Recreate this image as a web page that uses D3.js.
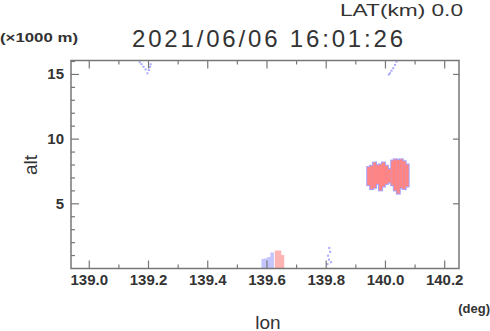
<!DOCTYPE html>
<html lang="en">
<head>
<meta charset="utf-8">
<title>alt-lon section</title>
<script src="https://cdnjs.cloudflare.com/ajax/libs/d3/7.8.5/d3.min.js"></script>
<style>
  body { margin: 0; background: #fff; }
  svg text { font-family: "Liberation Sans", Arial, sans-serif; fill: #333; }
  .axis text { font-weight: bold; font-size: 15px; }
  .axis line { stroke: #777; stroke-width: 1.2; }
  .axis path { display: none; }
</style>
</head>
<body>
<div id="chart"></div>
<script>
// ---- data ----
const xMajor = [139.0, 139.2, 139.4, 139.6, 139.8, 140.0, 140.2];
const xMinor = [139.1, 139.3, 139.5, 139.7, 139.9, 140.1];
const yMajor = [5, 10, 15];
const yMinor = [1, 2, 3, 4, 6, 7, 8, 9, 11, 12, 13, 14, 16];

// main echo near 140.0 deg (column centre, bottom km, top km)
const blobLon = [139.945, 139.955, 139.965, 139.975, 139.985, 139.995, 140.005, 140.015,
                 140.026, 140.035, 140.045, 140.055, 140.065, 140.075];
const blobLow = [6.4, 6.1, 6.2, 6.5, 6.0, 6.3, 6.5, 6.6, 6.4, 6.0, 5.75, 6.2, 6.1, 6.3];
const blobTop = [7.8, 7.9, 8.15, 7.95, 8.0, 8.15, 7.9, 7.65, 8.3, 8.4, 8.35, 8.4, 8.25, 8.0];

// weak echo at the ground near 139.6 deg
const lowLon = [139.588, 139.598, 139.608, 139.618, 139.633, 139.643, 139.653];
const lowTop = [0.7, 0.75, 0.85, 1.2, 1.35, 1.35, 1.0];
const lowLevel = ["b", "b", "b", "b", "p", "p", "p"];

// scattered weak points (lon, alt)
const dotLon = [139.172, 139.178, 139.185, 139.192, 139.198, 139.203, 139.207, 139.209,
                140.039, 140.034, 140.028, 140.022, 140.017, 140.013,
                139.812, 139.815, 139.808, 139.811, 139.818, 139.806];
const dotAlt = [15.9, 15.75, 15.55, 15.35, 15.05, 15.3, 15.55, 15.75,
                15.95, 15.7, 15.45, 15.25, 15.05, 14.95,
                1.55, 1.25, 0.95, 0.65, 0.45, 0.3];

const width = 490, height = 331;
const margin = {left: 71, right: 31, top: 61, bottom: 63};

const svg = d3.select("#chart").append("svg")
    .attr("width", width).attr("height", height);

const x = d3.scaleLinear().domain([138.94, 140.25]).range([margin.left, width - margin.right]);
const y = d3.scaleLinear().domain([0, 16]).range([height - margin.bottom, margin.top]);
const colW = x(140.01) - x(140.0);

const colour = {b: "#c4c4ff", p: "#ffb4b4"};

const plot = svg.append("g");

// blue fringe under the main echo
plot.selectAll("rect.edge").data(blobLon).enter().append("rect")
    .attr("class", "edge")
    .attr("x", (d, i) => x(d) - colW / 2 - 1)
    .attr("width", colW + 2)
    .attr("y", (d, i) => y(blobTop[i]) - 1)
    .attr("height", (d, i) => y(blobLow[i]) - y(blobTop[i]) + 2)
    .attr("fill", "#a4a4ff");

plot.selectAll("rect.core").data(blobLon).enter().append("rect")
    .attr("class", "core")
    .attr("x", (d, i) => x(d) - colW / 2)
    .attr("width", colW)
    .attr("y", (d, i) => y(blobTop[i]))
    .attr("height", (d, i) => y(blobLow[i]) - y(blobTop[i]))
    .attr("fill", "#ff8585");

plot.selectAll("rect.low").data(lowLon).enter().append("rect")
    .attr("x", (d, i) => x(d) - colW / 2)
    .attr("width", colW + 0.6)
    .attr("y", (d, i) => y(lowTop[i]))
    .attr("height", (d, i) => y(0) - y(lowTop[i]))
    .attr("fill", (d, i) => colour[lowLevel[i]]);

plot.selectAll("rect.dot").data(dotLon).enter().append("rect")
    .attr("x", (d, i) => x(d) - 1)
    .attr("y", (d, i) => y(dotAlt[i]) - 1)
    .attr("width", 2).attr("height", 2)
    .attr("fill", "#a8a8ff");

// axes: ticks point inwards on every side
function ticks(axis, tr, size, values, labels, pad) {
  const g = svg.append("g").attr("class", "axis").attr("transform", tr)
    .call(axis.tickValues(values).tickSize(size).tickPadding(pad || 0));
  if (!labels) g.selectAll("text").remove();
  return g;
}
const bottom = y(0) + 0.5, topY = y(16) - 0.5;
ticks(d3.axisBottom(x).tickFormat(d3.format(".1f")), `translate(0,${bottom})`, -8, xMajor, true, 6);
ticks(d3.axisBottom(x), `translate(0,${bottom})`, -4, xMinor, false);
ticks(d3.axisTop(x), `translate(0,${topY})`, -8, xMajor, false);
ticks(d3.axisTop(x), `translate(0,${topY})`, -4, xMinor, false);
ticks(d3.axisLeft(y), `translate(${x.range()[0]},0)`, -8, yMajor, true, 7);
ticks(d3.axisLeft(y), `translate(${x.range()[0]},0)`, -4, yMinor, false);
ticks(d3.axisRight(y), `translate(${x.range()[1]},0)`, -6, yMajor, false);

svg.selectAll(".axis text").attr("fill", "#333");

// frame
svg.append("rect")
    .attr("x", x.range()[0]).attr("y", topY)
    .attr("width", x.range()[1] - x.range()[0]).attr("height", bottom - topY)
    .attr("fill", "none").attr("stroke", "#777").attr("stroke-width", 1.5);

// labels
svg.append("text").attr("x", 340).attr("y", 16)
    .attr("textLength", 123).attr("lengthAdjust", "spacingAndGlyphs")
    .style("font-size", "16px").text("LAT(km) 0.0");
svg.append("text").attr("x", 132).attr("y", 47)
    .attr("textLength", 271).attr("lengthAdjust", "spacing")
    .style("font-size", "24px").text("2021/06/06 16:01:26");
svg.append("text").attr("x", 0).attr("y", 42)
    .attr("textLength", 78).attr("lengthAdjust", "spacingAndGlyphs")
    .style("font-size", "12px").style("font-weight", "bold").text("(×1000 m)");
svg.append("text").attr("x", 490).attr("y", 313).attr("text-anchor", "end")
    .style("font-size", "13px").style("font-weight", "bold").text("(deg)");
svg.append("text").attr("x", 268).attr("y", 329).attr("text-anchor", "middle")
    .style("font-size", "19px").text("lon");
svg.append("text").attr("transform", "translate(37,165) rotate(-90)")
    .attr("text-anchor", "middle")
    .style("font-size", "19px").text("alt");
</script>
</body>
</html>
